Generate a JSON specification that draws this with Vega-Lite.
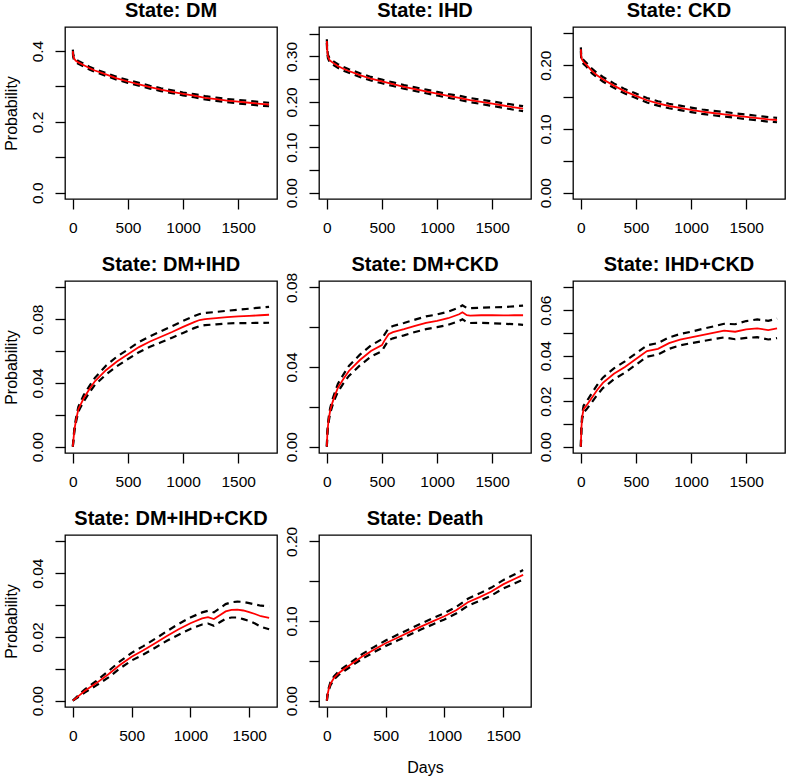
{
"$schema": "https://vega.github.io/schema/vega-lite/v6.json",
"padding": {"left": 2, "top": 0, "right": 2, "bottom": 1},
"bounds": "flush",
"columns": 3,
"spacing": {"row": 82, "column": 42},
"data": {"values": [
{"s":"DM","d":0,"e":0.400,"l":0.396,"h":0.404},
{"s":"DM","d":3,"e":0.388,"l":0.384,"h":0.392},
{"s":"DM","d":10,"e":0.380,"l":0.376,"h":0.384},
{"s":"DM","d":25,"e":0.373,"l":0.369,"h":0.377},
{"s":"DM","d":50,"e":0.368,"l":0.364,"h":0.372},
{"s":"DM","d":100,"e":0.360,"l":0.356,"h":0.364},
{"s":"DM","d":150,"e":0.352,"l":0.348,"h":0.356},
{"s":"DM","d":200,"e":0.345,"l":0.341,"h":0.349},
{"s":"DM","d":300,"e":0.334,"l":0.330,"h":0.338},
{"s":"DM","d":400,"e":0.323,"l":0.319,"h":0.327},
{"s":"DM","d":500,"e":0.314,"l":0.310,"h":0.318},
{"s":"DM","d":600,"e":0.306,"l":0.302,"h":0.310},
{"s":"DM","d":700,"e":0.298,"l":0.294,"h":0.302},
{"s":"DM","d":800,"e":0.291,"l":0.287,"h":0.295},
{"s":"DM","d":900,"e":0.285,"l":0.281,"h":0.289},
{"s":"DM","d":1000,"e":0.279,"l":0.275,"h":0.283},
{"s":"DM","d":1100,"e":0.274,"l":0.2695,"h":0.2785},
{"s":"DM","d":1200,"e":0.268,"l":0.2635,"h":0.2725},
{"s":"DM","d":1300,"e":0.264,"l":0.2595,"h":0.2685},
{"s":"DM","d":1400,"e":0.260,"l":0.2555,"h":0.2645},
{"s":"DM","d":1500,"e":0.257,"l":0.252,"h":0.262},
{"s":"DM","d":1600,"e":0.254,"l":0.249,"h":0.259},
{"s":"DM","d":1700,"e":0.251,"l":0.246,"h":0.256},
{"s":"DM","d":1780,"e":0.249,"l":0.244,"h":0.254},
{"s":"IHD","d":0,"e":0.334,"l":0.330,"h":0.338},
{"s":"IHD","d":3,"e":0.315,"l":0.311,"h":0.319},
{"s":"IHD","d":10,"e":0.300,"l":0.296,"h":0.304},
{"s":"IHD","d":25,"e":0.292,"l":0.288,"h":0.296},
{"s":"IHD","d":50,"e":0.287,"l":0.283,"h":0.291},
{"s":"IHD","d":100,"e":0.279,"l":0.275,"h":0.283},
{"s":"IHD","d":150,"e":0.273,"l":0.269,"h":0.277},
{"s":"IHD","d":200,"e":0.268,"l":0.264,"h":0.272},
{"s":"IHD","d":300,"e":0.259,"l":0.255,"h":0.263},
{"s":"IHD","d":400,"e":0.251,"l":0.247,"h":0.255},
{"s":"IHD","d":500,"e":0.245,"l":0.241,"h":0.249},
{"s":"IHD","d":600,"e":0.239,"l":0.235,"h":0.243},
{"s":"IHD","d":700,"e":0.233,"l":0.229,"h":0.237},
{"s":"IHD","d":800,"e":0.228,"l":0.224,"h":0.232},
{"s":"IHD","d":900,"e":0.223,"l":0.219,"h":0.227},
{"s":"IHD","d":1000,"e":0.218,"l":0.214,"h":0.222},
{"s":"IHD","d":1100,"e":0.213,"l":0.209,"h":0.217},
{"s":"IHD","d":1200,"e":0.209,"l":0.2045,"h":0.2135},
{"s":"IHD","d":1300,"e":0.204,"l":0.1995,"h":0.2085},
{"s":"IHD","d":1400,"e":0.200,"l":0.1955,"h":0.2045},
{"s":"IHD","d":1500,"e":0.196,"l":0.191,"h":0.201},
{"s":"IHD","d":1600,"e":0.192,"l":0.187,"h":0.197},
{"s":"IHD","d":1700,"e":0.188,"l":0.1825,"h":0.1935},
{"s":"IHD","d":1780,"e":0.185,"l":0.1795,"h":0.1905},
{"s":"CKD","d":0,"e":0.225,"l":0.222,"h":0.228},
{"s":"CKD","d":3,"e":0.215,"l":0.212,"h":0.218},
{"s":"CKD","d":10,"e":0.209,"l":0.206,"h":0.212},
{"s":"CKD","d":25,"e":0.205,"l":0.202,"h":0.208},
{"s":"CKD","d":50,"e":0.201,"l":0.198,"h":0.204},
{"s":"CKD","d":100,"e":0.191,"l":0.1875,"h":0.1945},
{"s":"CKD","d":150,"e":0.184,"l":0.1805,"h":0.1875},
{"s":"CKD","d":200,"e":0.178,"l":0.1745,"h":0.1815},
{"s":"CKD","d":300,"e":0.168,"l":0.1645,"h":0.1715},
{"s":"CKD","d":400,"e":0.159,"l":0.1555,"h":0.1625},
{"s":"CKD","d":500,"e":0.152,"l":0.1485,"h":0.1555},
{"s":"CKD","d":600,"e":0.145,"l":0.1415,"h":0.1485},
{"s":"CKD","d":700,"e":0.140,"l":0.1365,"h":0.1435},
{"s":"CKD","d":800,"e":0.136,"l":0.1325,"h":0.1395},
{"s":"CKD","d":900,"e":0.133,"l":0.1295,"h":0.1365},
{"s":"CKD","d":1000,"e":0.130,"l":0.1265,"h":0.1335},
{"s":"CKD","d":1100,"e":0.127,"l":0.1235,"h":0.1305},
{"s":"CKD","d":1200,"e":0.125,"l":0.1215,"h":0.1285},
{"s":"CKD","d":1300,"e":0.123,"l":0.1195,"h":0.1265},
{"s":"CKD","d":1400,"e":0.121,"l":0.1175,"h":0.1245},
{"s":"CKD","d":1500,"e":0.119,"l":0.1155,"h":0.1225},
{"s":"CKD","d":1600,"e":0.117,"l":0.1135,"h":0.1205},
{"s":"CKD","d":1700,"e":0.115,"l":0.1115,"h":0.1185},
{"s":"CKD","d":1780,"e":0.114,"l":0.1105,"h":0.1175},
{"s":"DM+IHD","d":0,"e":0,"l":0,"h":0},
{"s":"DM+IHD","d":5,"e":0.004,"l":0.0035,"h":0.0045},
{"s":"DM+IHD","d":15,"e":0.011,"l":0.010,"h":0.012},
{"s":"DM+IHD","d":30,"e":0.017,"l":0.0157,"h":0.0183},
{"s":"DM+IHD","d":50,"e":0.0235,"l":0.022,"h":0.025},
{"s":"DM+IHD","d":75,"e":0.027,"l":0.0253,"h":0.0287},
{"s":"DM+IHD","d":100,"e":0.0305,"l":0.0285,"h":0.0325},
{"s":"DM+IHD","d":150,"e":0.036,"l":0.034,"h":0.038},
{"s":"DM+IHD","d":200,"e":0.041,"l":0.0388,"h":0.0432},
{"s":"DM+IHD","d":300,"e":0.048,"l":0.0452,"h":0.0508},
{"s":"DM+IHD","d":400,"e":0.0535,"l":0.0505,"h":0.0565},
{"s":"DM+IHD","d":500,"e":0.058,"l":0.055,"h":0.061},
{"s":"DM+IHD","d":600,"e":0.0625,"l":0.0593,"h":0.0657},
{"s":"DM+IHD","d":700,"e":0.066,"l":0.0627,"h":0.0693},
{"s":"DM+IHD","d":800,"e":0.069,"l":0.0655,"h":0.0725},
{"s":"DM+IHD","d":900,"e":0.072,"l":0.0684,"h":0.0756},
{"s":"DM+IHD","d":1000,"e":0.0752,"l":0.0714,"h":0.079},
{"s":"DM+IHD","d":1100,"e":0.0782,"l":0.0744,"h":0.082},
{"s":"DM+IHD","d":1150,"e":0.0795,"l":0.0757,"h":0.0833},
{"s":"DM+IHD","d":1200,"e":0.0801,"l":0.0763,"h":0.0839},
{"s":"DM+IHD","d":1300,"e":0.0807,"l":0.0768,"h":0.0846},
{"s":"DM+IHD","d":1400,"e":0.0813,"l":0.0773,"h":0.0853},
{"s":"DM+IHD","d":1500,"e":0.0818,"l":0.0776,"h":0.086},
{"s":"DM+IHD","d":1600,"e":0.0821,"l":0.0776,"h":0.0866},
{"s":"DM+IHD","d":1700,"e":0.0825,"l":0.0777,"h":0.0873},
{"s":"DM+IHD","d":1780,"e":0.0828,"l":0.0778,"h":0.0878},
{"s":"DM+CKD","d":0,"e":0,"l":0,"h":0},
{"s":"DM+CKD","d":5,"e":0.007,"l":0.0065,"h":0.0075},
{"s":"DM+CKD","d":15,"e":0.013,"l":0.012,"h":0.014},
{"s":"DM+CKD","d":30,"e":0.018,"l":0.0167,"h":0.0193},
{"s":"DM+CKD","d":50,"e":0.022,"l":0.0205,"h":0.0235},
{"s":"DM+CKD","d":75,"e":0.026,"l":0.0243,"h":0.0277},
{"s":"DM+CKD","d":100,"e":0.0295,"l":0.0275,"h":0.0315},
{"s":"DM+CKD","d":150,"e":0.034,"l":0.0318,"h":0.0362},
{"s":"DM+CKD","d":200,"e":0.038,"l":0.0355,"h":0.0405},
{"s":"DM+CKD","d":300,"e":0.0435,"l":0.0408,"h":0.0462},
{"s":"DM+CKD","d":400,"e":0.048,"l":0.0452,"h":0.0508},
{"s":"DM+CKD","d":500,"e":0.051,"l":0.048,"h":0.054},
{"s":"DM+CKD","d":520,"e":0.053,"l":0.050,"h":0.056},
{"s":"DM+CKD","d":560,"e":0.0565,"l":0.0535,"h":0.0595},
{"s":"DM+CKD","d":600,"e":0.0575,"l":0.0544,"h":0.0606},
{"s":"DM+CKD","d":700,"e":0.059,"l":0.0559,"h":0.0621},
{"s":"DM+CKD","d":800,"e":0.0607,"l":0.0576,"h":0.0638},
{"s":"DM+CKD","d":900,"e":0.0622,"l":0.059,"h":0.0654},
{"s":"DM+CKD","d":1000,"e":0.0632,"l":0.06,"h":0.0664},
{"s":"DM+CKD","d":1100,"e":0.0645,"l":0.0612,"h":0.0678},
{"s":"DM+CKD","d":1200,"e":0.0665,"l":0.0631,"h":0.0699},
{"s":"DM+CKD","d":1230,"e":0.0675,"l":0.064,"h":0.071},
{"s":"DM+CKD","d":1270,"e":0.066,"l":0.0624,"h":0.0696},
{"s":"DM+CKD","d":1300,"e":0.0658,"l":0.0621,"h":0.0695},
{"s":"DM+CKD","d":1400,"e":0.066,"l":0.0622,"h":0.0698},
{"s":"DM+CKD","d":1500,"e":0.066,"l":0.062,"h":0.070},
{"s":"DM+CKD","d":1600,"e":0.0659,"l":0.0617,"h":0.0701},
{"s":"DM+CKD","d":1700,"e":0.066,"l":0.0615,"h":0.0705},
{"s":"DM+CKD","d":1780,"e":0.066,"l":0.0612,"h":0.0708},
{"s":"IHD+CKD","d":0,"e":0,"l":0,"h":0},
{"s":"IHD+CKD","d":5,"e":0.008,"l":0.0075,"h":0.0085},
{"s":"IHD+CKD","d":12,"e":0.013,"l":0.012,"h":0.014},
{"s":"IHD+CKD","d":25,"e":0.0165,"l":0.015,"h":0.018},
{"s":"IHD+CKD","d":50,"e":0.018,"l":0.0163,"h":0.0197},
{"s":"IHD+CKD","d":100,"e":0.0215,"l":0.0195,"h":0.0235},
{"s":"IHD+CKD","d":150,"e":0.025,"l":0.0228,"h":0.0272},
{"s":"IHD+CKD","d":200,"e":0.028,"l":0.0257,"h":0.0303},
{"s":"IHD+CKD","d":300,"e":0.032,"l":0.0296,"h":0.0344},
{"s":"IHD+CKD","d":400,"e":0.035,"l":0.0325,"h":0.0375},
{"s":"IHD+CKD","d":500,"e":0.0385,"l":0.036,"h":0.041},
{"s":"IHD+CKD","d":600,"e":0.042,"l":0.0395,"h":0.0445},
{"s":"IHD+CKD","d":700,"e":0.043,"l":0.0405,"h":0.0455},
{"s":"IHD+CKD","d":800,"e":0.0455,"l":0.043,"h":0.048},
{"s":"IHD+CKD","d":900,"e":0.047,"l":0.0445,"h":0.0495},
{"s":"IHD+CKD","d":1000,"e":0.048,"l":0.0455,"h":0.0505},
{"s":"IHD+CKD","d":1100,"e":0.049,"l":0.0463,"h":0.0517},
{"s":"IHD+CKD","d":1200,"e":0.050,"l":0.0472,"h":0.0528},
{"s":"IHD+CKD","d":1300,"e":0.051,"l":0.048,"h":0.054},
{"s":"IHD+CKD","d":1400,"e":0.0505,"l":0.0472,"h":0.0538},
{"s":"IHD+CKD","d":1500,"e":0.0515,"l":0.0478,"h":0.0552},
{"s":"IHD+CKD","d":1600,"e":0.052,"l":0.0481,"h":0.0559},
{"s":"IHD+CKD","d":1700,"e":0.0512,"l":0.0471,"h":0.0553},
{"s":"IHD+CKD","d":1780,"e":0.052,"l":0.0477,"h":0.0563},
{"s":"DM+IHD+CKD","d":0,"e":0,"l":0,"h":0},
{"s":"DM+IHD+CKD","d":50,"e":0.0015,"l":0.0012,"h":0.0018},
{"s":"DM+IHD+CKD","d":100,"e":0.003,"l":0.0025,"h":0.0035},
{"s":"DM+IHD+CKD","d":200,"e":0.0055,"l":0.0048,"h":0.0062},
{"s":"DM+IHD+CKD","d":300,"e":0.0082,"l":0.0072,"h":0.0092},
{"s":"DM+IHD+CKD","d":400,"e":0.0112,"l":0.0101,"h":0.0123},
{"s":"DM+IHD+CKD","d":500,"e":0.0138,"l":0.0126,"h":0.015},
{"s":"DM+IHD+CKD","d":600,"e":0.0158,"l":0.0145,"h":0.0171},
{"s":"DM+IHD+CKD","d":700,"e":0.018,"l":0.0166,"h":0.0194},
{"s":"DM+IHD+CKD","d":800,"e":0.0203,"l":0.0188,"h":0.0218},
{"s":"DM+IHD+CKD","d":900,"e":0.0224,"l":0.0207,"h":0.0241},
{"s":"DM+IHD+CKD","d":1000,"e":0.0243,"l":0.0225,"h":0.0261},
{"s":"DM+IHD+CKD","d":1100,"e":0.0258,"l":0.0239,"h":0.0277},
{"s":"DM+IHD+CKD","d":1150,"e":0.0262,"l":0.0242,"h":0.0282},
{"s":"DM+IHD+CKD","d":1200,"e":0.0256,"l":0.0235,"h":0.0277},
{"s":"DM+IHD+CKD","d":1250,"e":0.0268,"l":0.0246,"h":0.029},
{"s":"DM+IHD+CKD","d":1300,"e":0.028,"l":0.0257,"h":0.0303},
{"s":"DM+IHD+CKD","d":1350,"e":0.0285,"l":0.0261,"h":0.0309},
{"s":"DM+IHD+CKD","d":1400,"e":0.0286,"l":0.0261,"h":0.0311},
{"s":"DM+IHD+CKD","d":1450,"e":0.0283,"l":0.0256,"h":0.031},
{"s":"DM+IHD+CKD","d":1500,"e":0.0278,"l":0.025,"h":0.0306},
{"s":"DM+IHD+CKD","d":1550,"e":0.0272,"l":0.0242,"h":0.0302},
{"s":"DM+IHD+CKD","d":1600,"e":0.0265,"l":0.0232,"h":0.0298},
{"s":"DM+IHD+CKD","d":1670,"e":0.026,"l":0.0224,"h":0.0296},
{"s":"Death","d":0,"e":0,"l":0,"h":0},
{"s":"Death","d":5,"e":0.007,"l":0.006,"h":0.008},
{"s":"Death","d":15,"e":0.014,"l":0.0125,"h":0.0155},
{"s":"Death","d":30,"e":0.021,"l":0.019,"h":0.023},
{"s":"Death","d":60,"e":0.0285,"l":0.0265,"h":0.0305},
{"s":"Death","d":100,"e":0.0345,"l":0.0323,"h":0.0367},
{"s":"Death","d":150,"e":0.040,"l":0.0375,"h":0.0425},
{"s":"Death","d":200,"e":0.045,"l":0.0425,"h":0.0475},
{"s":"Death","d":300,"e":0.0555,"l":0.0525,"h":0.0585},
{"s":"Death","d":400,"e":0.064,"l":0.0608,"h":0.0672},
{"s":"Death","d":500,"e":0.072,"l":0.0685,"h":0.0755},
{"s":"Death","d":600,"e":0.079,"l":0.0754,"h":0.0826},
{"s":"Death","d":700,"e":0.086,"l":0.0823,"h":0.0897},
{"s":"Death","d":800,"e":0.093,"l":0.0892,"h":0.0968},
{"s":"Death","d":900,"e":0.0995,"l":0.0956,"h":0.1034},
{"s":"Death","d":1000,"e":0.106,"l":0.102,"h":0.110},
{"s":"Death","d":1100,"e":0.1135,"l":0.1093,"h":0.1177},
{"s":"Death","d":1200,"e":0.1235,"l":0.1191,"h":0.1279},
{"s":"Death","d":1300,"e":0.130,"l":0.1253,"h":0.1347},
{"s":"Death","d":1400,"e":0.137,"l":0.132,"h":0.142},
{"s":"Death","d":1500,"e":0.146,"l":0.1407,"h":0.1513},
{"s":"Death","d":1600,"e":0.153,"l":0.1473,"h":0.1587},
{"s":"Death","d":1670,"e":0.158,"l":0.152,"h":0.164}
]},
"concat": [
{"title": {"text": "State: DM"}, "width": 212, "height": 172,
 "transform": [{"filter": "datum.s == 'DM'"}],
 "encoding": {"x": {"field": "d", "type": "quantitative", "scale": {"domain": [-71, 1852], "nice": false, "zero": false}, "axis": {"values": [0, 500, 1000, 1500], "format": "d", "title": null}}},
 "layer": [
  {"transform": [{"fold": ["l", "h"], "as": ["k", "v"]}], "mark": {"type": "line", "color": "black", "strokeDash": [7, 5], "strokeWidth": 2.2},
   "encoding": {"detail": {"field": "k"}, "y": {"field": "v", "type": "quantitative", "scale": {"domain": [-0.018, 0.468], "nice": false, "zero": false}, "axis": {"values": [0, 0.1, 0.2, 0.3, 0.4], "labelExpr": "round(datum.value/0.1)%2==1 ? '' : format(datum.value,'.1f')", "title": "Probability"}}}},
  {"mark": {"type": "line", "color": "#ff0000", "strokeWidth": 1.8},
   "encoding": {"y": {"field": "e", "type": "quantitative", "scale": {"domain": [-0.018, 0.468], "nice": false, "zero": false}, "axis": {"values": [0, 0.1, 0.2, 0.3, 0.4], "labelExpr": "round(datum.value/0.1)%2==1 ? '' : format(datum.value,'.1f')", "title": "Probability"}}}}
 ]},
{"title": {"text": "State: IHD"}, "width": 212, "height": 172,
 "transform": [{"filter": "datum.s == 'IHD'"}],
 "encoding": {"x": {"field": "d", "type": "quantitative", "scale": {"domain": [-71, 1852], "nice": false, "zero": false}, "axis": {"values": [0, 500, 1000, 1500], "format": "d", "title": null}}},
 "layer": [
  {"transform": [{"fold": ["l", "h"], "as": ["k", "v"]}], "mark": {"type": "line", "color": "black", "strokeDash": [7, 5], "strokeWidth": 2.2},
   "encoding": {"detail": {"field": "k"}, "y": {"field": "v", "type": "quantitative", "scale": {"domain": [-0.014, 0.365], "nice": false, "zero": false}, "axis": {"values": [0, 0.05, 0.1, 0.15, 0.2, 0.25, 0.3, 0.35], "labelExpr": "round(datum.value/0.05)%2==1 ? '' : format(datum.value,'.2f')", "title": null}}}},
  {"mark": {"type": "line", "color": "#ff0000", "strokeWidth": 1.8},
   "encoding": {"y": {"field": "e", "type": "quantitative", "scale": {"domain": [-0.014, 0.365], "nice": false, "zero": false}, "axis": {"values": [0, 0.05, 0.1, 0.15, 0.2, 0.25, 0.3, 0.35], "labelExpr": "round(datum.value/0.05)%2==1 ? '' : format(datum.value,'.2f')", "title": null}}}}
 ]},
{"title": {"text": "State: CKD"}, "width": 212, "height": 172,
 "transform": [{"filter": "datum.s == 'CKD'"}],
 "encoding": {"x": {"field": "d", "type": "quantitative", "scale": {"domain": [-71, 1852], "nice": false, "zero": false}, "axis": {"values": [0, 500, 1000, 1500], "format": "d", "title": null}}},
 "layer": [
  {"transform": [{"fold": ["l", "h"], "as": ["k", "v"]}], "mark": {"type": "line", "color": "black", "strokeDash": [7, 5], "strokeWidth": 2.2},
   "encoding": {"detail": {"field": "k"}, "y": {"field": "v", "type": "quantitative", "scale": {"domain": [-0.01, 0.26], "nice": false, "zero": false}, "axis": {"values": [0, 0.05, 0.1, 0.15, 0.2, 0.25], "labelExpr": "round(datum.value/0.05)%2==1 ? '' : format(datum.value,'.2f')", "title": null}}}},
  {"mark": {"type": "line", "color": "#ff0000", "strokeWidth": 1.8},
   "encoding": {"y": {"field": "e", "type": "quantitative", "scale": {"domain": [-0.01, 0.26], "nice": false, "zero": false}, "axis": {"values": [0, 0.05, 0.1, 0.15, 0.2, 0.25], "labelExpr": "round(datum.value/0.05)%2==1 ? '' : format(datum.value,'.2f')", "title": null}}}}
 ]},
{"title": {"text": "State: DM+IHD"}, "width": 212, "height": 172,
 "transform": [{"filter": "datum.s == 'DM+IHD'"}],
 "encoding": {"x": {"field": "d", "type": "quantitative", "scale": {"domain": [-71, 1852], "nice": false, "zero": false}, "axis": {"values": [0, 500, 1000, 1500], "format": "d", "title": null}}},
 "layer": [
  {"transform": [{"fold": ["l", "h"], "as": ["k", "v"]}], "mark": {"type": "line", "color": "black", "strokeDash": [7, 5], "strokeWidth": 2.2},
   "encoding": {"detail": {"field": "k"}, "y": {"field": "v", "type": "quantitative", "scale": {"domain": [-0.004, 0.104], "nice": false, "zero": false}, "axis": {"values": [0, 0.02, 0.04, 0.06, 0.08, 0.1], "labelExpr": "round(datum.value/0.02)%2==1 ? '' : format(datum.value,'.2f')", "title": "Probability"}}}},
  {"mark": {"type": "line", "color": "#ff0000", "strokeWidth": 1.8},
   "encoding": {"y": {"field": "e", "type": "quantitative", "scale": {"domain": [-0.004, 0.104], "nice": false, "zero": false}, "axis": {"values": [0, 0.02, 0.04, 0.06, 0.08, 0.1], "labelExpr": "round(datum.value/0.02)%2==1 ? '' : format(datum.value,'.2f')", "title": "Probability"}}}}
 ]},
{"title": {"text": "State: DM+CKD", "dy": 8.5}, "width": 212, "height": 172,
 "transform": [{"filter": "datum.s == 'DM+CKD'"}],
 "encoding": {"x": {"field": "d", "type": "quantitative", "scale": {"domain": [-71, 1852], "nice": false, "zero": false}, "axis": {"values": [0, 500, 1000, 1500], "format": "d", "title": null}}},
 "layer": [
  {"transform": [{"fold": ["l", "h"], "as": ["k", "v"]}], "mark": {"type": "line", "color": "black", "strokeDash": [7, 5], "strokeWidth": 2.2},
   "encoding": {"detail": {"field": "k"}, "y": {"field": "v", "type": "quantitative", "scale": {"domain": [-0.0032, 0.0832], "nice": false, "zero": false}, "axis": {"values": [0, 0.02, 0.04, 0.06, 0.08], "labelExpr": "round(datum.value/0.02)%2==1 ? '' : format(datum.value,'.2f')", "title": null}}}},
  {"mark": {"type": "line", "color": "#ff0000", "strokeWidth": 1.8},
   "encoding": {"y": {"field": "e", "type": "quantitative", "scale": {"domain": [-0.0032, 0.0832], "nice": false, "zero": false}, "axis": {"values": [0, 0.02, 0.04, 0.06, 0.08], "labelExpr": "round(datum.value/0.02)%2==1 ? '' : format(datum.value,'.2f')", "title": null}}}}
 ]},
{"title": {"text": "State: IHD+CKD"}, "width": 212, "height": 172,
 "transform": [{"filter": "datum.s == 'IHD+CKD'"}],
 "encoding": {"x": {"field": "d", "type": "quantitative", "scale": {"domain": [-71, 1852], "nice": false, "zero": false}, "axis": {"values": [0, 500, 1000, 1500], "format": "d", "title": null}}},
 "layer": [
  {"transform": [{"fold": ["l", "h"], "as": ["k", "v"]}], "mark": {"type": "line", "color": "black", "strokeDash": [7, 5], "strokeWidth": 2.2},
   "encoding": {"detail": {"field": "k"}, "y": {"field": "v", "type": "quantitative", "scale": {"domain": [-0.0028, 0.0728], "nice": false, "zero": false}, "axis": {"values": [0, 0.01, 0.02, 0.03, 0.04, 0.05, 0.06, 0.07], "labelExpr": "round(datum.value/0.01)%2==1 ? '' : format(datum.value,'.2f')", "title": null}}}},
  {"mark": {"type": "line", "color": "#ff0000", "strokeWidth": 1.8},
   "encoding": {"y": {"field": "e", "type": "quantitative", "scale": {"domain": [-0.0028, 0.0728], "nice": false, "zero": false}, "axis": {"values": [0, 0.01, 0.02, 0.03, 0.04, 0.05, 0.06, 0.07], "labelExpr": "round(datum.value/0.01)%2==1 ? '' : format(datum.value,'.2f')", "title": null}}}}
 ]},
{"title": {"text": "State: DM+IHD+CKD"}, "width": 212, "height": 172,
 "transform": [{"filter": "datum.s == 'DM+IHD+CKD'"}],
 "encoding": {"x": {"field": "d", "type": "quantitative", "scale": {"domain": [-67, 1737], "nice": false, "zero": false}, "axis": {"values": [0, 500, 1000, 1500], "format": "d", "title": null}}},
 "layer": [
  {"transform": [{"fold": ["l", "h"], "as": ["k", "v"]}], "mark": {"type": "line", "color": "black", "strokeDash": [7, 5], "strokeWidth": 2.2},
   "encoding": {"detail": {"field": "k"}, "y": {"field": "v", "type": "quantitative", "scale": {"domain": [-0.002, 0.052], "nice": false, "zero": false}, "axis": {"values": [0, 0.01, 0.02, 0.03, 0.04, 0.05], "labelExpr": "round(datum.value/0.01)%2==1 ? '' : format(datum.value,'.2f')", "title": "Probability"}}}},
  {"mark": {"type": "line", "color": "#ff0000", "strokeWidth": 1.8},
   "encoding": {"y": {"field": "e", "type": "quantitative", "scale": {"domain": [-0.002, 0.052], "nice": false, "zero": false}, "axis": {"values": [0, 0.01, 0.02, 0.03, 0.04, 0.05], "labelExpr": "round(datum.value/0.01)%2==1 ? '' : format(datum.value,'.2f')", "title": "Probability"}}}}
 ]},
{"title": {"text": "State: Death", "dy": 8.5}, "width": 212, "height": 172,
 "transform": [{"filter": "datum.s == 'Death'"}],
 "encoding": {"x": {"field": "d", "type": "quantitative", "scale": {"domain": [-67, 1737], "nice": false, "zero": false}, "axis": {"values": [0, 500, 1000, 1500], "format": "d", "title": "Days"}}},
 "layer": [
  {"transform": [{"fold": ["l", "h"], "as": ["k", "v"]}], "mark": {"type": "line", "color": "black", "strokeDash": [7, 5], "strokeWidth": 2.2},
   "encoding": {"detail": {"field": "k"}, "y": {"field": "v", "type": "quantitative", "scale": {"domain": [-0.008, 0.208], "nice": false, "zero": false}, "axis": {"values": [0, 0.05, 0.1, 0.15, 0.2], "labelExpr": "round(datum.value/0.05)%2==1 ? '' : format(datum.value,'.2f')", "title": null}}}},
  {"mark": {"type": "line", "color": "#ff0000", "strokeWidth": 1.8},
   "encoding": {"y": {"field": "e", "type": "quantitative", "scale": {"domain": [-0.008, 0.208], "nice": false, "zero": false}, "axis": {"values": [0, 0.05, 0.1, 0.15, 0.2], "labelExpr": "round(datum.value/0.05)%2==1 ? '' : format(datum.value,'.2f')", "title": null}}}}
 ]}
],
"config": {
 "font": "Liberation Sans",
 "background": "white",
 "view": {"stroke": "black", "strokeWidth": 1.3},
 "axis": {"grid": false, "domain": false, "ticks": true, "tickSize": 10, "tickColor": "black", "tickWidth": 1.3, "labelFont": "Liberation Sans", "labelFontSize": 15.5, "labelColor": "black", "labelPadding": 10, "labelOverlap": false, "titleFont": "Liberation Sans", "titleFontSize": 16, "titleFontWeight": "normal", "titleColor": "black"},
 "axisY": {"labelAngle": -90, "labelAlign": "center", "labelBaseline": "bottom", "titlePadding": 11},
 "axisX": {"labelPadding": 11, "titlePadding": 16, "labelFlush": false},
 "title": {"fontSize": 20, "fontWeight": "bold", "font": "Liberation Sans", "color": "black", "frame": "group", "anchor": "middle", "offset": 6, "baseline": "alphabetic"}
}
}
